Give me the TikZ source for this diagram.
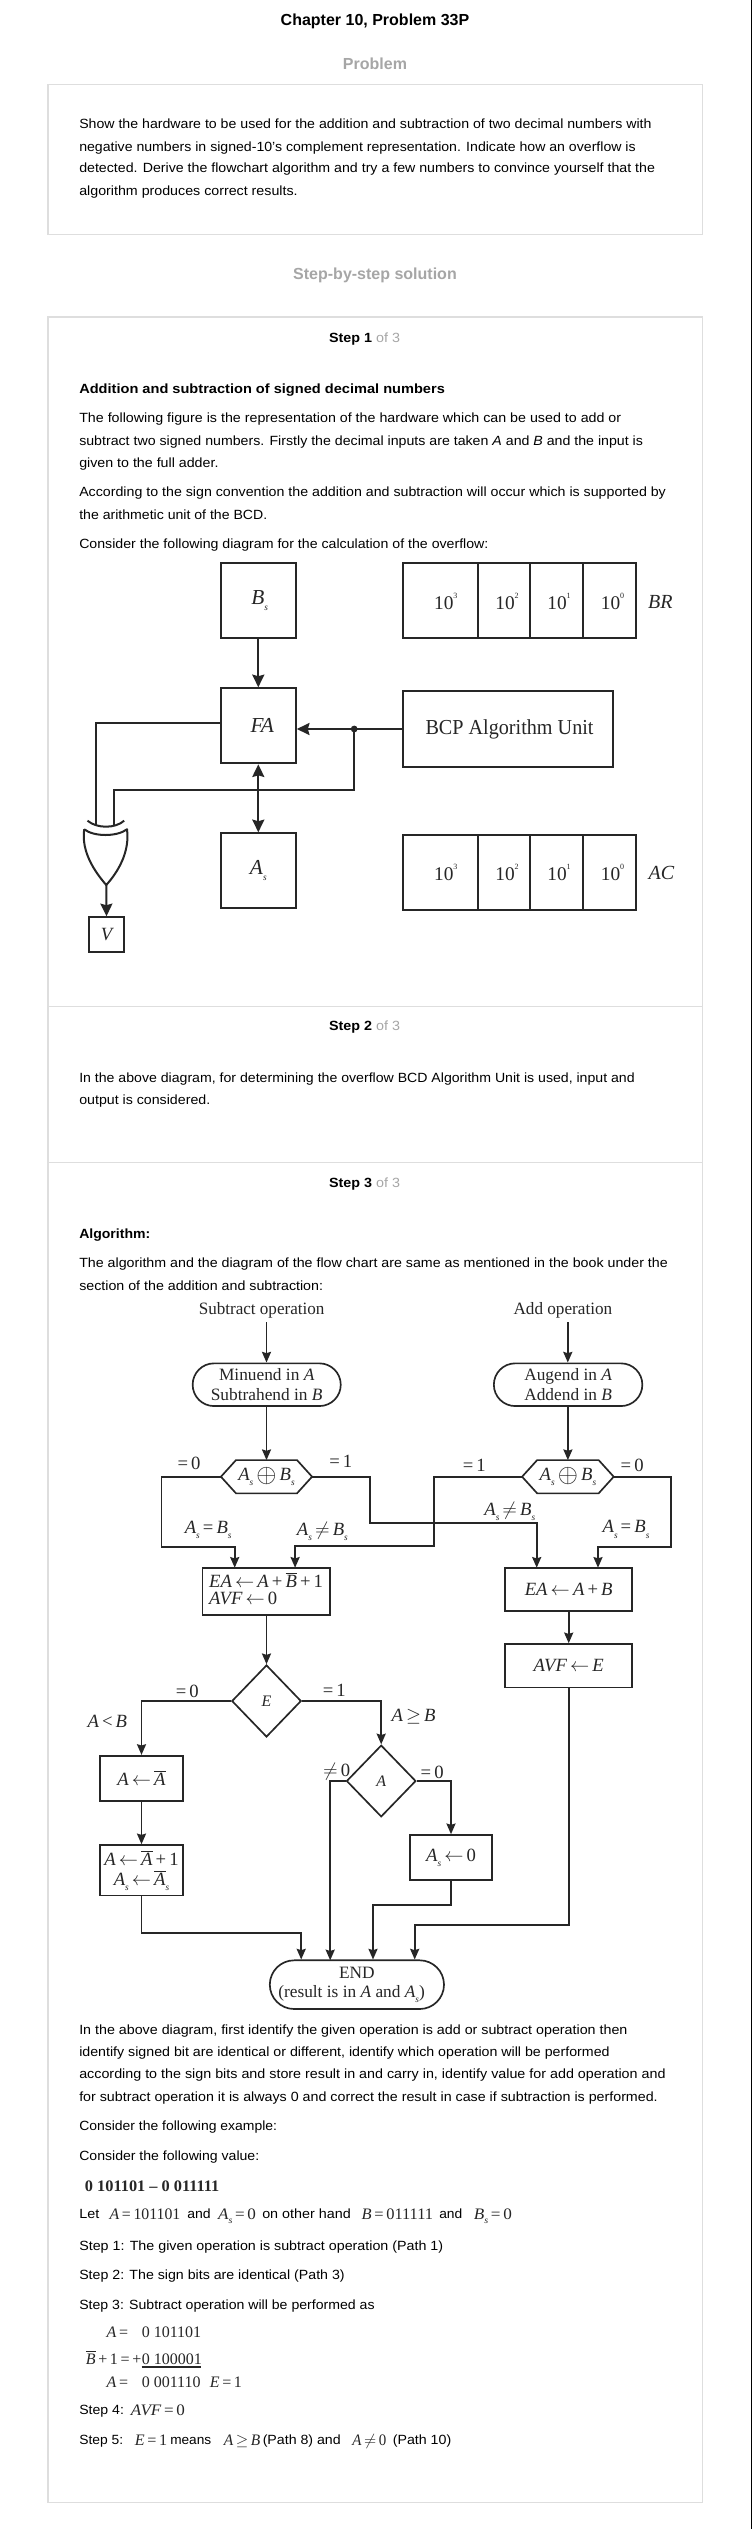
\documentclass[tikz,border=0pt]{standalone}
\usepackage{fontspec}
\setmainfont{Liberation Sans}
\newfontfamily\dgfont{Liberation Serif}
\usetikzlibrary{shapes.geometric,shapes.misc,arrows.meta,calc}
\definecolor{ink}{HTML}{262626}
\definecolor{frame}{HTML}{DEDEDE}
\definecolor{head}{HTML}{A6A6A6}
\newcommand\iv[1]{{\itshape #1}}
\newcommand\subs{\raisebox{-0.28em}{\fontsize{7}{7}\selectfont\itshape s}}
\newcommand\ova[1]{$\overline{\mbox{\itshape #1}}$}
\newcommand\sq[2]{#1\raisebox{0.55em}{\fontsize{6}{6}\selectfont #2}}
\newcommand\lar{\,$\leftarrow$\,}
\newcommand\opl{\,\raisebox{-0.12em}{\scalebox{1.35}{$\oplus$}}\,}
% sets a line so that it is #1 px wide, by widening or narrowing the font
\newcommand\fitl[2]{\setbox0=\hbox{#2}\pgfmathsetmacro\fitr{0.75*#1/\the\wd0}{\addfontfeature{FakeStretch=\fitr}#2}}
\newcommand\hexpath[1]{\draw[draw=ink,line width=1.25pt,line join=miter] (#1.west) -- ([xshift=11.3pt]#1.north west) -- ([xshift=-11.3pt]#1.north east) -- (#1.east) -- ([xshift=-11.3pt]#1.south east) -- ([xshift=11.3pt]#1.south west) -- cycle;}
\tikzset{
 x=0.75pt,y=-0.75pt,
 sz/.style n args={2}{minimum width=0.75pt*#1,minimum height=0.75pt*#2},
 body/.style={anchor=base west,inner sep=0pt,text=black,font=\fontsize{10}{12}\selectfont},
 bold/.style={body,font=\fontsize{10}{12}\selectfont\bfseries},
 title/.style={anchor=center,inner sep=0pt,font=\fontsize{12}{14}\selectfont\bfseries},
 head/.style={title,text=head},
 stephead/.style={anchor=center,inner sep=0pt,font=\fontsize{10}{12}\selectfont},
 frame/.style={draw=frame,line width=0.9pt,fill=white},
 box/.style={draw=ink,line width=1.5pt,rectangle,inner sep=0pt,text=ink,font=\dgfont\fontsize{16}{18}\selectfont},
 fbox/.style={box,line width=1.25pt,font=\dgfont\fontsize{14}{16}\selectfont,align=center},
 term/.style={fbox,rounded rectangle,font=\dgfont\fontsize{13}{16}\selectfont},
 hexa/.style={rectangle,inner sep=0pt,text=ink,font=\dgfont\fontsize{14}{16}\selectfont},
 dia/.style={fbox,diamond,font=\dgfont\fontsize{12}{14}\selectfont\itshape},
 lbl/.style={inner sep=0pt,text=ink,font=\dgfont\fontsize{14}{16}\selectfont},
 opname/.style={inner sep=0pt,text=ink,font=\dgfont\fontsize{13}{16}\selectfont},
 reglbl/.style={inner sep=0pt,text=ink,font=\dgfont\fontsize{14.5}{17}\selectfont},
 inl/.style={anchor=base west,inner sep=0pt,text=ink,font=\dgfont\fontsize{12}{14}\selectfont},
 wire/.style={draw=ink,line width=1.25pt},
 arr/.style={wire,-{Stealth[length=8pt,width=6.8pt,inset=1pt]}},
 hwire/.style={draw=ink,line width=1.5pt},
 harr/.style={hwire,-{Stealth[length=9.5pt,width=9pt,inset=1.2pt]}},
 hdarr/.style={hwire,{Stealth[length=9.5pt,width=9pt,inset=1.2pt]}-{Stealth[length=9.5pt,width=9pt,inset=1.2pt]}},
}
\begin{document}
\begin{tikzpicture}
\useasboundingbox (0,0) rectangle (752,2529);
\fill[white] (0,0) rectangle (752,2529);
\draw[black,line width=0.75pt] (751.5,0) -- (751.5,2529);
% frames
\draw[frame] (48,84.6) rectangle (702.4,234.3);
\draw[frame] (48,317) rectangle (702.4,2502.3);
\draw[frame] (48,1006.3) -- (702.4,1006.3);
\draw[frame] (48,1162.3) -- (702.4,1162.3);
% headings
\node[title] (h1) at (375,21.4) {Chapter 10, Problem 33P};
\node[head] (h2) at (375,63.6) {Problem};
\node[head] (h3) at (375,275.4) {Step-by-step solution};
\node[stephead] (s1) at (364.5,339) {\fitl{71}{\textbf{Step 1} \textcolor{head}{of 3}}};
\node[stephead] (s2) at (364.5,1027.3) {\fitl{71}{\textbf{Step 2} \textcolor{head}{of 3}}};
\node[stephead] (s3) at (364.5,1184.3) {\fitl{71}{\textbf{Step 3} \textcolor{head}{of 3}}};
% text
\node[body] (p1) at (79,128.6) {\fitl{572.3}{Show the hardware to be used for the addition and subtraction of two decimal numbers with}};
\node[body] (p2) at (79,151.4) {\fitl{556.5}{negative numbers in signed-10's complement representation. Indicate how an overflow is}};
\node[body] (p3) at (79,173) {\fitl{575.7}{detected. Derive the flowchart algorithm and try a few numbers to convince yourself that the}};
\node[body] (p4) at (79,195.4) {\fitl{218.4}{algorithm produces correct results.}};
\node[bold] (a0) at (79,393) {\fitl{365.6}{Addition and subtraction of signed decimal numbers}};
\node[body] (a1) at (79,422) {\fitl{542}{The following figure is the representation of the hardware which can be used to add or}};
\node[body] (a2) at (79,445) {\fitl{563.7}{subtract two signed numbers. Firstly the decimal inputs are taken \iv{A} and \iv{B} and the input is}};
\node[body] (a3) at (79,467) {\fitl{139.2}{given to the full adder.}};
\node[body] (a4) at (79,496.4) {\fitl{586.7}{According to the sign convention the addition and subtraction will occur which is supported by}};
\node[body] (a5) at (79,519) {\fitl{188}{the arithmetic unit of the BCD.}};
\node[body] (a6) at (79,548) {\fitl{409.2}{Consider the following diagram for the calculation of the overflow:}};
\node[body] (b1) at (79,1082) {\fitl{555.5}{In the above diagram, for determining the overflow BCD Algorithm Unit is used, input and}};
\node[body] (b2) at (79,1104) {\fitl{131}{output is considered.}};
\node[bold] (c0) at (79,1238) {\fitl{71}{Algorithm:}};
\node[body] (c1) at (79,1267.7) {\fitl{588.6}{The algorithm and the diagram of the flow chart are same as mentioned in the book under the}};
\node[body] (c2) at (79,1290) {\fitl{243.8}{section of the addition and subtraction:}};
\node[body] (d1) at (79,2034.3) {\fitl{548.2}{In the above diagram, first identify the given operation is add or subtract operation then}};
\node[body] (d2) at (79,2056.3) {\fitl{530.4}{identify signed bit are identical or different, identify which operation will be performed}};
\node[body] (d3) at (79,2078.3) {\fitl{586.3}{according to the sign bits and store result in and carry in, identify value for add operation and}};
\node[body] (d4) at (79,2101) {\fitl{578.5}{for subtract operation it is always 0 and correct the result in case if subtraction is performed.}};
\node[body] (d5) at (79,2130.3) {\fitl{197.8}{Consider the following example:}};
\node[body] (d6) at (79,2160) {\fitl{180}{Consider the following value:}};
\node[inl,font=\dgfont\fontsize{12}{14}\selectfont\bfseries] (d7) at (84.7,2191.7) {\fitl{134.4}{0 101101 – 0 011111}};
\node[body] (e1) at (79,2218) {\fitl{20}{Let}};
\node[inl] (e2) at (109.4,2219) {\fitl{70.6}{\iv{A}\,=\,101101}};
\node[body] (e3) at (187,2218) {\fitl{23.4}{and}};
\node[inl] (e4) at (217.8,2219) {\fitl{38.2}{\iv{A}\subs\,=\,0}};
\node[body] (e5) at (262,2218) {\fitl{88.5}{on other hand}};
\node[inl] (e6) at (361.4,2219) {\fitl{71.6}{\iv{B}\,=\,011111}};
\node[body] (e7) at (439,2218) {\fitl{23}{and}};
\node[inl] (e8) at (473.7,2219) {\fitl{38.3}{\iv{B}\subs\,=\,0}};
\node[body] (f1) at (79,2250) {\fitl{363.9}{Step 1: The given operation is subtract operation (Path 1)}};
\node[body] (f2) at (79,2279) {\fitl{265.4}{Step 2: The sign bits are identical (Path 3)}};
\node[body] (f3) at (79,2309) {\fitl{295.4}{Step 3: Subtract operation will be performed as}};
\node[inl] (g1) at (106.4,2337) {\iv{A}\,=};
\node[inl] (g2) at (141.5,2337) {0 101101};
\node[inl] (g3) at (85.6,2364) {\ova{B}\,+\,1\,=\,+};
\node[inl] (g4) at (141.5,2364) {0 100001};
\node[inl] (g5) at (106.4,2387.7) {\iv{A}\,=};
\node[inl] (g6) at (141.5,2387.7) {0 001110};
\node[inl] (g7) at (209.6,2387.7) {\iv{E}\,=\,1};
\draw[draw=ink,line width=0.8pt] (g4.base west)++(0,3) -- ++(59,0);
\node[body] (j1) at (79,2414) {\fitl{44.7}{Step 4:}};
\node[inl] (j2) at (130.7,2415) {\fitl{54.2}{\iv{AVF}\,=\,0}};
\node[body] (k1) at (79,2444) {\fitl{43.9}{Step 5:}};
\node[inl] (k2) at (134.6,2445) {\fitl{32.4}{\iv{E}\,=\,1}};
\node[body] (k3) at (170,2444) {\fitl{41}{means}};
\node[inl] (k4) at (223.5,2445) {\fitl{36}{\iv{A}\,$\geq$\,\iv{B}}};
\node[body] (k5) at (262.5,2444) {\fitl{78}{(Path 8) and}};
\node[inl] (k6) at (352,2445) {\fitl{33}{\iv{A}\,$\neq$\,0}};
\node[body] (k7) at (392.6,2444) {\fitl{58.4}{(Path 10)}};
% hardware diagram
\node[box,sz={75}{75}] (Bs) at (258.3,600.2) {\kern2pt\iv{B}\subs};
\node[box,sz={75}{75}] (FA) at (258.3,725.8) {\kern6pt\iv{FA}};
\node[box,sz={75}{75}] (As) at (258.3,870.8) {\iv{A}\subs};
\node[box,sz={210.3}{75.4}] (BCP) at (508.2,729) {\kern2pt\fitl{168}{BCP Algorithm Unit}};
\foreach \n/\c/\w in {1/440.25/74.5,2/504/52.9,3/556.85/52.9,4/609.65/52.9}{
 \node[box,sz={\w}{75}] (rb\n) at (\c,600.2) {};
 \node[box,sz={\w}{75}] (ra\n) at (\c,872.8) {};
}
\foreach \n/\c/\e in {1/445.8/3,2/507/2,3/559/1,4/612.5/0}{
 \node[reglbl] (tb\n) at (\c,601.7) {\sq{10}{\e}};
 \node[reglbl] (ta\n) at (\c,872.7) {\sq{10}{\e}};
}
\node[reglbl,font=\dgfont\fontsize{15}{17}\selectfont\itshape] (BR) at (660.4,602) {BR};
\node[reglbl,font=\dgfont\fontsize{15}{17}\selectfont\itshape] (AC) at (661.5,872.7) {AC};
\node[box,sz={34.5}{34.4},font=\dgfont\fontsize{14}{17}\selectfont\itshape] (V) at (106.5,934.5) {V};
\coordinate (dot) at (354.2,729);
\coordinate (b1) at (113.75,790);
\coordinate (xb) at (113.75,825.6);
\coordinate (c1) at (95.8,723);
\coordinate (xa) at (95.8,825);
\coordinate (tip) at (106.25,885);
\coordinate (gl) at (84.2,829.3);
\coordinate (gr) at (127,829.3);
\draw[harr] (Bs.south) -- (FA.north);
\draw[harr] (BCP.west) -- (BCP.west -| FA.east);
\fill[ink] (dot) circle[radius=3.4];
\draw[hwire] (dot) |- (b1) -- (xb);
\draw[hwire] (FA.west |- c1) -- (c1) -- (xa);
\draw[hdarr] (FA.south) -- (As.north);
\draw[hwire,line join=round] (gl) .. controls (94,836.9) and (117,836.9) .. (gr)
   .. controls (130,852) and (118,872) .. (tip)
   .. controls (95,872) and (81,852) .. (gl);
\draw[hwire] (87.5,820.7) .. controls (97,828.7) and (115,828.7) .. (124.2,820.7);
\draw[harr] (tip) -- (V.north);
% flow chart
\node[opname] (subop) at (261.6,1310) {\fitl{125.7}{Subtract operation}};
\node[opname] (addop) at (562.9,1310) {\fitl{98.8}{Add operation}};
\coordinate (sf) at (266.5,1322.3);
\coordinate (af) at (567.8,1322.3);
\node[term,sz={148.1}{42.7}] (tL) at (266.7,1384.7) {Minuend in \iv{A}\\[-1.5pt]Subtrahend in \iv{B}};
\node[term,sz={148.5}{42.7}] (tR) at (568.1,1384.7) {Augend in \iv{A}\\[-1.5pt]Addend in \iv{B}};
\draw[arr] (sf) -- (tL.north -| sf);
\draw[arr] (af) -- (tR.north -| af);
\node[hexa,sz={90.6}{32.7}] (hL) at (266.5,1476.7) {\iv{A}\subs\opl\iv{B}\subs};
\node[hexa,sz={91.1}{32.7}] (hR) at (567.9,1476.7) {\iv{A}\subs\opl\iv{B}\subs};
\hexpath{hL}
\hexpath{hR}
\draw[arr] (tL.south -| hL.north) -- (hL.north);
\draw[arr] (tR.south -| hR.north) -- (hR.north);
\node[lbl] (l0a) at (189,1463.3) {=\,0};
\node[lbl] (l1a) at (340.8,1461.7) {=\,1};
\node[lbl] (l1b) at (474.3,1465) {=\,1};
\node[lbl] (l0b) at (632.2,1465) {=\,0};
\node[lbl] (ne1) at (208.2,1530) {\iv{A}\subs\,=\,\iv{B}\subs};
\node[lbl] (ne2) at (322.4,1531.7) {\iv{A}\subs\,$\neq$\,\iv{B}\subs};
\node[lbl] (ne3) at (509.8,1511.7) {\iv{A}\subs\,$\neq$\,\iv{B}\subs};
\node[lbl] (ne4) at (626,1529.3) {\iv{A}\subs\,=\,\iv{B}\subs};
\node[fbox,sz={127.4}{47.6}] (eaL) at (266.1,1591.5) {\begin{tabular}{@{}l@{}}\iv{EA}\lar\iv{A}\,+\,\ova{B}\,+\,1\\[-3pt]\iv{AVF}\lar 0\end{tabular}};
\node[fbox,sz={126.9}{43.3}] (eaR) at (568.7,1589.3) {\iv{EA}\lar\iv{A}\,+\,\iv{B}};
\coordinate (p1a) at (161.6,1547.3);
\coordinate (p1b) at (234.7,1567.7);
\draw[arr] (hL.west) -| (p1a) -| (p1b);
\coordinate (p2a) at (370.2,1522.7);
\coordinate (p2b) at (536.7,1567.7);
\draw[arr] (hL.east) -| (p2a) -| (p2b);
\coordinate (p3a) at (434.3,1545.7);
\coordinate (p3b) at (295.1,1567.7);
\draw[arr] (hR.west) -| (p3a) -| (p3b);
\coordinate (p4a) at (671,1547.3);
\coordinate (p4b) at (598,1567.7);
\draw[arr] (hR.east) -| (p4a) -| (p4b);
\node[fbox,sz={126.9}{43.3}] (avf) at (568.7,1665.7) {\iv{AVF}\lar\iv{E}};
\draw[arr] (eaR.south) -- (avf.north);
\node[dia,sz={69.4}{72}] (dE) at (266.5,1701) {E};
\draw[arr] (eaL.south -| dE.north) -- (dE.north);
\node[lbl] (e0) at (187.3,1691) {=\,0};
\node[lbl] (e1l) at (334.3,1690.7) {=\,1};
\node[lbl] (altb) at (107.3,1721) {\iv{A}\,<\,\iv{B}};
\node[lbl] (ageb) at (413.5,1717) {\iv{A}\,$\geq$\,\iv{B}};
\node[fbox,sz={82.5}{45}] (nA) at (141.5,1778.2) {\iv{A}\lar\ova{A}};
\node[fbox,sz={82.8}{50.3}] (nA2) at (141.5,1870.2) {\iv{A}\lar\ova{A}\,+\,1\\[-1pt]\iv{A}\subs\lar\ova{A}\subs};
\node[dia,sz={69.4}{71.7}] (dA) at (381.2,1781) {A};
\draw[arr] (dE.west) -| (nA.north);
\draw[arr] (dE.east) -| (dA.north);
\draw[arr] (nA.south) -- (nA2.north);
\node[lbl] (a0n) at (336.7,1771.7) {$\neq$\,0};
\node[lbl] (a0e) at (432.2,1772.3) {=\,0};
\node[fbox,sz={82.4}{45}] (sz) at (451,1857.5) {\iv{A}\subs\lar 0};
\draw[arr] (dA.east) -| (sz.north);
\node[term,sz={174.2}{48.7}] (END) at (356.9,1984.65) {END\\[-1.5pt](result is in \iv{A} and \iv{A}\subs)\kern8pt};
\coordinate (q1) at (301.2,1932.7);
\draw[arr] (nA2.south) |- (q1) -- (q1 |- END.north);
\coordinate (q2) at (330.2,1960.3);
\draw[arr] (dA.west) -| (q2);
\coordinate (q3) at (373,1905);
\draw[arr] (sz.south) |- (q3) -- (q3 |- END.north);
\coordinate (q4) at (414.7,1924.7);
\draw[arr] (avf.south) |- (q4) -- (q4 |- END.north);
\end{tikzpicture}
\end{document}
